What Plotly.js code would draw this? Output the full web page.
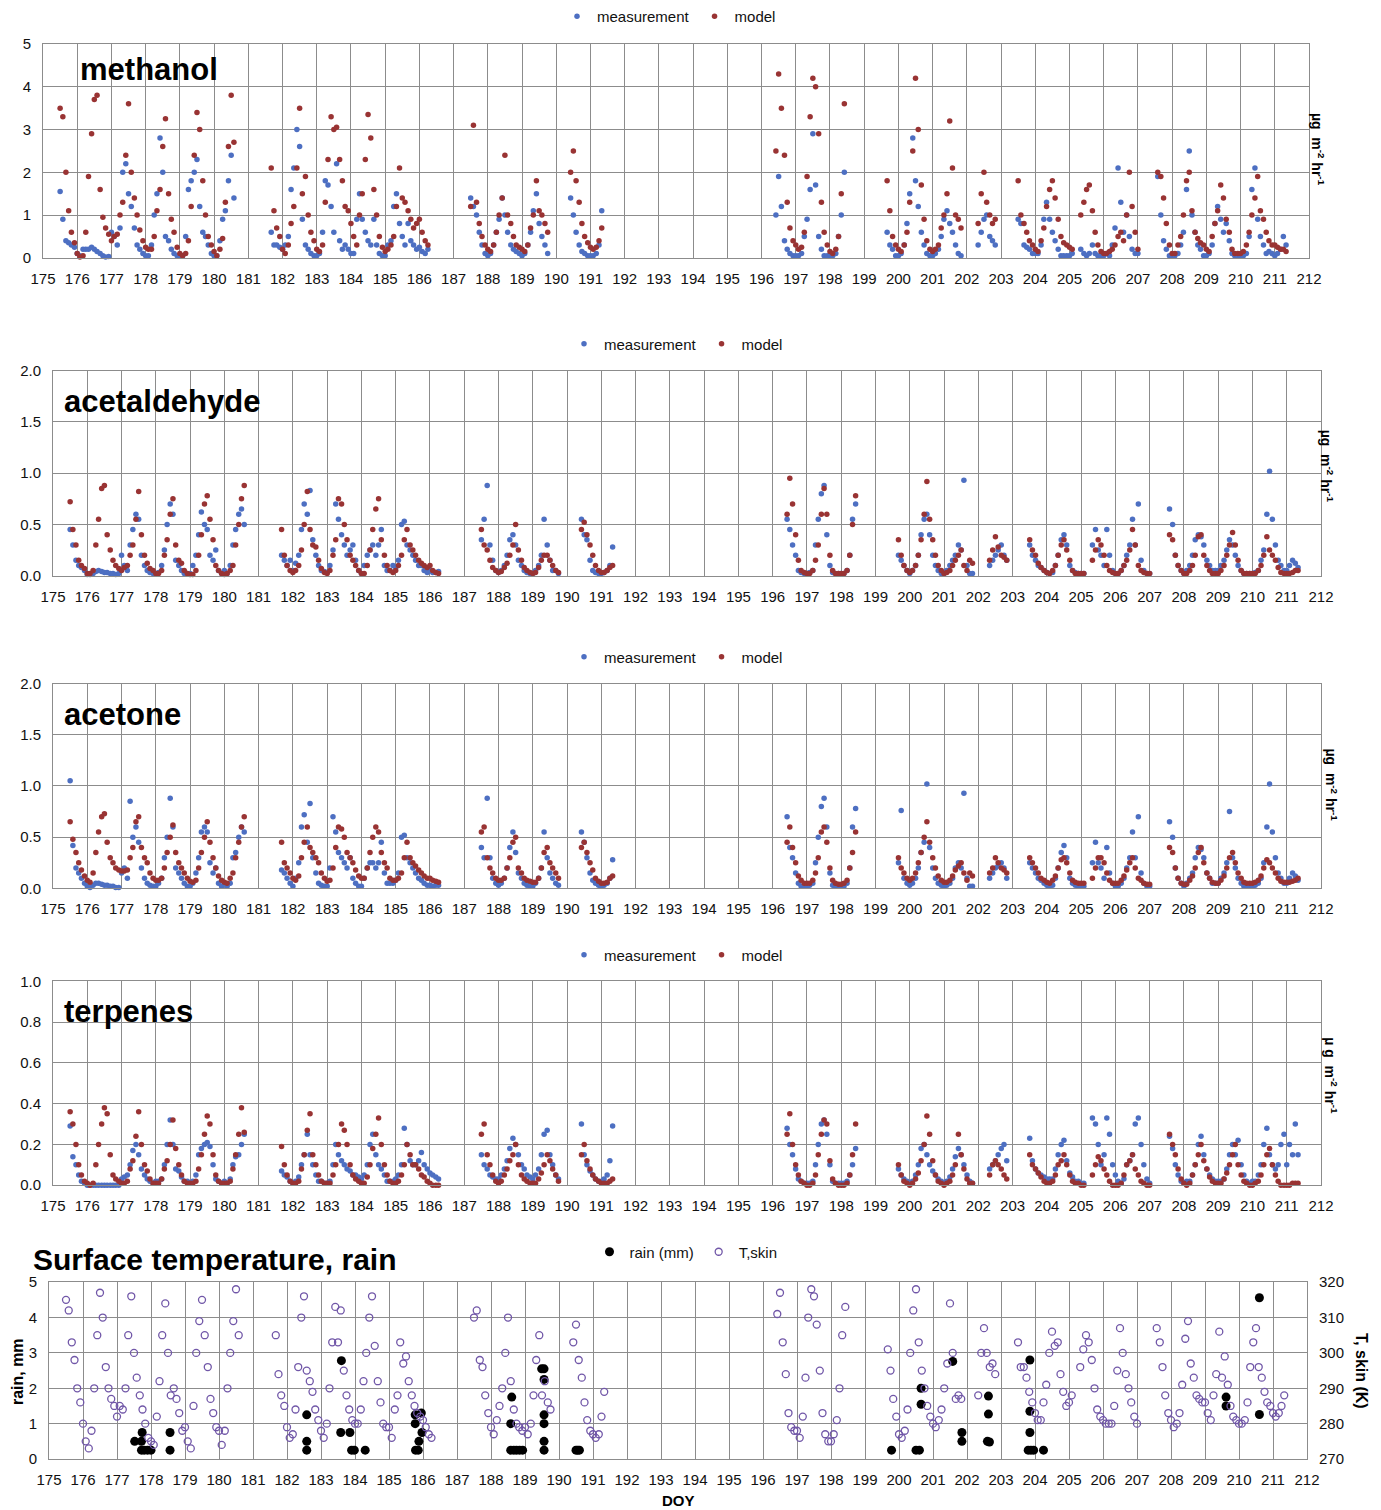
<!DOCTYPE html>
<html>
<head>
<meta charset="utf-8">
<script src="https://cdn.plot.ly/plotly-3.0.1.min.js"></script>
<style>html,body{margin:0;padding:0;background:#fff;}#chart{width:1381px;height:1510px;}</style>
</head>
<body>
<div id="chart"></div>
<script>
// Day of year sample times (2-hourly, segments with data)
const doy = [
175.5,175.58,175.67,175.75,175.83,175.92,
176,176.08,176.17,176.25,176.33,176.42,176.5,176.58,176.67,176.75,176.83,176.92,
177,177.08,177.17,177.25,177.33,177.42,177.5,177.58,177.67,177.75,177.83,177.92,
178,178.08,178.17,178.25,178.33,178.42,178.5,178.58,178.67,178.75,178.83,178.92,
179,179.08,179.17,179.25,179.33,179.42,179.5,179.58,179.67,179.75,179.83,179.92,
180,180.08,180.17,180.25,180.33,180.42,180.5,180.58,
181.67,181.75,181.83,181.92,
182,182.08,182.17,182.25,182.33,182.42,182.5,182.58,182.67,182.75,182.83,182.92,
183,183.08,183.17,183.25,183.33,183.42,183.5,183.58,183.67,183.75,183.83,183.92,
184,184.08,184.17,184.25,184.33,184.42,184.5,184.58,184.67,184.75,184.83,184.92,
185,185.08,185.17,185.25,185.33,185.42,185.5,185.58,185.67,185.75,185.83,185.92,
186,186.08,186.17,186.25,
187.5,187.58,187.67,187.75,187.83,187.92,
188,188.08,188.17,188.25,188.33,188.42,188.5,188.58,188.67,188.75,188.83,188.92,
189,189.08,189.17,189.25,189.33,189.42,189.5,189.58,189.67,189.75,
190.42,190.5,190.58,190.67,190.75,190.83,190.92,
191,191.08,191.17,191.25,191.33,
196.42,196.5,196.58,196.67,196.75,196.83,196.92,
197,197.08,197.17,197.25,197.33,197.42,197.5,197.58,197.67,197.75,197.83,197.92,
198,198.08,198.17,198.25,198.33,198.42,
199.67,199.75,199.83,199.92,
200,200.08,200.17,200.25,200.33,200.42,200.5,200.58,200.67,200.75,200.83,200.92,
201,201.08,201.17,201.25,201.33,201.42,201.5,201.58,201.67,201.75,201.83,
202.33,202.42,202.5,202.58,202.67,202.75,202.83,
203.5,203.58,203.67,203.75,203.83,203.92,
204,204.08,204.17,204.25,204.33,204.42,204.5,204.58,204.67,204.75,204.83,204.92,
205,205.08,
205.33,205.42,205.5,205.58,205.67,205.75,205.83,205.92,
206,206.08,206.17,206.25,206.33,206.42,206.5,206.58,206.67,206.75,206.83,206.92,
207,
207.58,207.67,207.75,207.83,207.92,
208,208.08,208.17,208.25,208.33,208.42,208.5,208.58,208.67,208.75,208.83,208.92,
209,209.08,209.17,209.25,209.33,209.42,209.5,209.58,209.67,209.75,209.83,209.92,
210,210.08,210.17,210.25,210.33,210.42,210.5,210.58,210.67,210.75,210.83,210.92,
211,211.08,211.17,211.25,211.33
];

// methanol (µg m-2 hr-1)
const methanolMeas = [
1.55,0.9,0.4,0.35,0.3,0.25,
0.1,0.05,0.2,0.2,0.2,0.25,0.2,0.15,0.1,0.05,0.02,0.03,
0.6,0.5,0.3,0.7,2.0,2.2,1.5,1.2,0.7,0.3,0.2,0.1,
0.05,0.05,0.3,1.0,1.5,2.8,2.0,0.5,0.4,0.2,0.1,0.05,
0.05,0.05,0.5,1.6,1.8,2.0,2.3,1.2,0.6,0.5,0.3,0.1,
0.05,0.05,0.4,0.9,1.1,1.8,2.4,1.4,
0.6,0.3,0.3,0.25,
0.2,0.3,0.5,1.6,2.1,3.0,2.6,0.9,0.3,0.2,0.1,0.05,
0.05,0.1,0.6,1.8,1.7,1.2,0.6,2.2,0.4,0.2,0.3,0.2,
0.1,0.1,0.9,1.5,0.9,0.6,0.4,0.3,0.9,0.3,0.1,0.05,
0.05,0.3,0.4,1.2,1.5,0.8,0.5,0.3,0.8,0.4,0.3,0.2,
0.25,0.15,0.1,0.2,
1.4,1.2,1.0,0.6,0.3,0.1,
0.05,0.1,0.3,0.6,0.9,1.4,1.0,0.6,0.3,0.2,0.15,0.1,
0.05,0.1,0.3,0.6,1.1,1.5,0.8,0.5,0.3,0.1,
1.4,1.0,0.6,0.3,0.15,0.1,0.05,
0.05,0.05,0.1,0.3,1.1,
1.0,1.9,1.2,0.4,0.2,0.1,0.05,
0.05,0.05,0.1,0.5,0.9,1.6,2.9,1.7,0.5,0.2,0.05,0.05,
0.05,0.05,0.1,0.5,1.0,2.0,
0.6,0.3,0.2,0.05,
0.05,0.1,0.3,0.8,1.5,2.8,1.8,1.2,0.6,0.3,0.1,0.05,
0.05,0.1,0.2,0.5,0.9,1.1,0.8,0.6,0.3,0.1,0.05,
0.3,0.6,0.9,1.0,0.5,0.4,0.3,
0.9,0.8,0.3,0.25,0.2,0.1,
0.1,0.1,0.3,0.9,1.3,0.9,0.6,0.4,0.2,0.05,0.05,0.05,
0.05,0.1,
0.2,0.1,0.05,0.1,0.3,0.1,0.05,0.05,
0.05,0.1,0.05,0.3,0.7,2.1,1.3,0.6,1.0,0.5,0.2,0.1,
0.1,
1.9,1.0,0.4,0.2,0.05,
0.05,0.05,0.1,0.3,0.6,1.6,2.5,1.0,0.6,0.3,0.2,0.05,
0.05,0.1,0.3,0.8,1.2,0.9,0.6,0.8,0.4,0.1,0.05,0.05,
0.05,0.05,0.1,0.5,1.6,2.1,0.9,0.5,0.3,0.1,0.15,0.1,
0.05,0.1,0.2,0.5,0.3
];
const methanolModel = [
3.5,3.3,2.0,1.1,0.6,0.35,
0.1,0.02,0.05,0.6,1.9,2.9,3.7,3.8,1.6,0.95,0.7,0.55,
0.4,0.5,0.55,1.0,1.3,2.4,3.6,2.0,1.4,1.0,0.65,0.4,
0.25,0.2,0.2,0.5,1.1,1.6,2.6,3.25,1.5,0.9,0.6,0.25,
0.1,0.05,0.1,0.4,1.2,2.4,3.4,3.0,1.8,1.0,0.5,0.3,
0.15,0.05,0.2,0.45,1.3,2.6,3.8,2.7,
2.1,1.1,0.7,0.5,
0.2,0.1,0.3,0.8,1.2,2.1,3.5,1.5,1.9,1.0,0.6,0.4,
0.2,0.15,0.3,1.3,2.3,3.3,3.0,3.05,2.3,1.8,1.2,1.1,
0.8,0.5,0.3,1.0,1.5,2.3,3.35,2.8,1.6,1.0,0.5,0.25,
0.15,0.2,0.3,0.5,1.2,2.1,1.4,1.3,1.1,0.9,0.7,0.8,
0.9,0.6,0.4,0.3,
1.2,3.1,1.3,0.8,0.5,0.3,
0.2,0.15,0.3,0.6,1.0,1.4,2.4,1.0,0.8,0.5,0.3,0.25,
0.2,0.15,0.3,0.7,1.0,1.8,1.1,1.0,0.8,0.6,
2.0,2.5,1.8,1.3,0.8,0.5,0.35,
0.25,0.2,0.25,0.4,0.7,
2.5,4.3,3.5,2.4,1.3,0.7,0.4,
0.3,0.2,0.25,0.6,1.9,3.3,4.2,4.0,2.9,1.3,0.6,0.3,
0.15,0.1,0.2,0.5,1.5,3.6,
1.8,1.1,0.5,0.3,
0.2,0.15,0.3,0.6,1.3,2.5,4.2,3.0,1.7,0.9,0.4,0.2,
0.15,0.2,0.3,0.7,1.0,1.5,3.2,2.1,1.0,0.9,0.7,
0.8,1.5,2.0,1.3,1.0,0.8,0.9,
1.8,1.0,0.8,0.6,0.4,0.3,
0.2,0.15,0.4,0.7,1.2,1.6,1.8,1.4,0.9,0.5,0.35,0.3,
0.25,0.2,
1.0,1.3,1.6,1.7,1.1,0.6,0.3,0.15,
0.1,0.1,0.15,0.2,0.3,0.5,0.6,0.4,1.0,2.0,1.2,0.6,
0.2,
2.0,1.9,1.4,0.8,0.3,
0.1,0.1,0.3,0.5,1.0,1.8,2.0,1.1,0.6,0.45,0.35,0.3,
0.2,0.15,0.5,0.8,1.1,1.7,1.4,0.9,0.6,0.2,0.1,0.1,
0.1,0.15,0.3,0.6,1.0,1.4,1.9,1.1,0.9,0.6,0.4,0.3,
0.3,0.25,0.2,0.2,0.15
];

// acetaldehyde
const acetaldehydeMeas = [
0.45,0.3,0.15,0.1,0.08,0.05,
0.01,0.01,0.02,0.04,0.05,0.04,0.03,0.03,0.02,0.02,0.01,0.02,
0.2,0.1,0.05,0.3,0.45,0.6,0.55,0.2,0.1,0.05,0.03,0.02,
0.02,0.03,0.1,0.25,0.5,0.7,0.6,0.15,0.1,0.05,0.02,0.02,
0.02,0.1,0.2,0.4,0.62,0.5,0.45,0.2,0.15,0.25,0.05,0.02,
0.05,0.02,0.1,0.3,0.45,0.6,0.65,0.5,
0.2,0.15,0.1,0.15,
0.05,0.12,0.2,0.45,0.7,0.6,0.83,0.35,0.2,0.1,0.05,0.04,
0.03,0.1,0.25,0.7,0.55,0.4,0.3,0.2,0.25,0.3,0.15,0.05,
0.02,0.1,0.2,0.25,0.3,0.2,0.3,0.45,0.1,0.05,0.05,0.1,
0.08,0.15,0.5,0.53,0.3,0.25,0.2,0.15,0.1,0.1,0.05,0.03,
0.05,0.03,0.03,0.04,
0.35,0.55,0.88,0.3,0.15,0.05,
0.03,0.05,0.1,0.2,0.35,0.4,0.3,0.15,0.1,0.05,0.03,0.02,
0.02,0.05,0.1,0.2,0.55,0.3,0.15,0.05,0.05,0.02,
0.55,0.4,0.35,0.15,0.05,0.03,0.02,
0.02,0.03,0.05,0.1,0.28,
0.55,0.45,0.3,0.2,0.05,0.03,0.02,
0.02,0.03,0.05,0.3,0.55,0.8,0.88,0.4,0.1,0.03,0.02,0.02,
0.02,0.02,0.05,0.2,0.55,0.7,
0.2,0.15,0.1,0.05,
0.02,0.05,0.1,0.2,0.4,0.55,0.6,0.4,0.2,0.1,0.05,0.02,
0.02,0.05,0.1,0.15,0.2,0.3,0.25,0.93,0.1,0.02,0.02,
0.1,0.15,0.2,0.25,0.3,0.2,0.15,
0.3,0.2,0.15,0.1,0.08,0.05,
0.03,0.02,0.03,0.1,0.2,0.35,0.4,0.3,0.1,0.05,0.03,0.02,
0.02,0.02,
0.3,0.45,0.25,0.2,0.1,0.45,0.2,0.05,
0.02,0.02,0.05,0.1,0.2,0.3,0.55,0.3,0.7,0.15,0.05,0.02,
0.02,
0.65,0.5,0.2,0.1,0.05,
0.02,0.05,0.1,0.2,0.35,0.4,0.38,0.3,0.15,0.1,0.05,0.05,
0.05,0.1,0.15,0.25,0.35,0.3,0.2,0.1,0.05,0.02,0.02,0.02,
0.02,0.03,0.05,0.15,0.25,0.6,1.02,0.55,0.3,0.15,0.1,0.05,
0.05,0.1,0.15,0.12,0.08
];
const acetaldehydeModel = [
0.72,0.45,0.3,0.15,0.1,0.07,
0.02,0.02,0.05,0.3,0.55,0.85,0.88,0.4,0.25,0.15,0.1,0.07,
0.05,0.08,0.1,0.2,0.3,0.55,0.82,0.4,0.2,0.12,0.07,0.05,
0.02,0.02,0.05,0.2,0.35,0.6,0.75,0.3,0.15,0.12,0.05,0.02,
0.01,0.01,0.05,0.2,0.4,0.7,0.78,0.55,0.35,0.1,0.05,0.02,
0.01,0.02,0.05,0.1,0.3,0.5,0.75,0.88,
0.45,0.2,0.1,0.05,
0.03,0.05,0.1,0.25,0.5,0.82,0.45,0.3,0.28,0.15,0.07,0.03,
0.02,0.05,0.2,0.35,0.75,0.7,0.5,0.35,0.2,0.15,0.1,0.05,
0.02,0.02,0.1,0.25,0.45,0.65,0.75,0.35,0.2,0.1,0.05,0.03,
0.05,0.1,0.2,0.35,0.45,0.3,0.25,0.2,0.15,0.12,0.1,0.08,
0.1,0.05,0.03,0.02,
0.45,0.3,0.25,0.15,0.08,0.05,
0.03,0.04,0.08,0.12,0.2,0.3,0.5,0.25,0.15,0.08,0.05,0.03,
0.02,0.03,0.08,0.15,0.2,0.2,0.15,0.1,0.05,0.03,
0.45,0.52,0.4,0.3,0.2,0.1,0.05,
0.03,0.03,0.05,0.08,0.1,
0.6,0.95,0.7,0.4,0.15,0.05,0.03,
0.02,0.02,0.05,0.15,0.3,0.6,0.85,0.6,0.2,0.05,0.02,0.02,
0.02,0.02,0.05,0.2,0.5,0.78,
0.35,0.2,0.1,0.05,
0.03,0.05,0.1,0.2,0.35,0.6,0.92,0.55,0.35,0.2,0.1,0.05,
0.02,0.03,0.05,0.1,0.15,0.2,0.25,0.1,0.05,0.15,0.12,
0.15,0.25,0.38,0.28,0.2,0.18,0.15,
0.35,0.25,0.2,0.12,0.08,0.05,
0.03,0.02,0.05,0.1,0.2,0.3,0.35,0.25,0.15,0.05,0.02,0.02,
0.02,0.02,
0.15,0.25,0.35,0.3,0.2,0.1,0.05,0.03,
0.02,0.02,0.05,0.1,0.15,0.25,0.45,0.3,0.1,0.05,0.03,0.02,
0.02,
0.4,0.35,0.2,0.1,0.05,
0.02,0.02,0.05,0.1,0.2,0.38,0.4,0.2,0.1,0.05,0.02,0.02,
0.02,0.05,0.1,0.2,0.3,0.42,0.3,0.15,0.05,0.02,0.02,0.02,
0.02,0.02,0.05,0.1,0.2,0.38,0.25,0.2,0.15,0.08,0.03,0.02,
0.02,0.02,0.03,0.05,0.05
];

// acetone
const acetoneMeas = [
1.05,0.42,0.2,0.15,0.1,0.05,
0.02,0.01,0.03,0.05,0.05,0.04,0.03,0.03,0.02,0.02,0.01,0.01,
0.15,0.2,0.1,0.85,0.5,0.6,0.45,0.2,0.1,0.05,0.03,0.02,
0.02,0.05,0.1,0.3,0.5,0.88,0.6,0.2,0.15,0.1,0.05,0.02,
0.02,0.05,0.15,0.3,0.55,0.6,0.55,0.25,0.15,0.2,0.05,0.02,
0.05,0.02,0.05,0.3,0.35,0.5,0.6,0.55,
0.18,0.15,0.1,0.05,
0.02,0.1,0.25,0.6,0.72,0.45,0.83,0.3,0.15,0.05,0.03,0.02,
0.02,0.2,0.7,0.55,0.35,0.3,0.25,0.2,0.3,0.1,0.05,0.02,
0.02,0.1,0.2,0.25,0.25,0.2,0.25,0.45,0.15,0.05,0.05,0.05,
0.08,0.15,0.5,0.52,0.3,0.25,0.2,0.15,0.1,0.08,0.05,0.03,
0.03,0.02,0.03,0.03,
0.4,0.3,0.88,0.3,0.1,0.05,
0.03,0.05,0.1,0.2,0.4,0.55,0.35,0.15,0.1,0.05,0.03,0.02,
0.02,0.05,0.1,0.2,0.55,0.3,0.15,0.1,0.05,0.03,
0.55,0.45,0.3,0.15,0.08,0.05,0.03,
0.02,0.03,0.05,0.1,0.28,
0.7,0.4,0.3,0.15,0.05,0.02,0.02,
0.02,0.03,0.05,0.25,0.5,0.8,0.88,0.6,0.15,0.03,0.02,0.02,
0.02,0.02,0.05,0.2,0.6,0.78,
0.25,0.76,0.1,0.05,
0.03,0.05,0.1,0.2,0.35,0.45,1.02,0.4,0.2,0.1,0.05,0.03,
0.02,0.03,0.05,0.1,0.2,0.25,0.2,0.93,0.1,0.02,0.02,
0.1,0.15,0.2,0.22,0.25,0.2,0.1,
0.25,0.2,0.15,0.1,0.08,0.05,
0.03,0.02,0.03,0.1,0.2,0.35,0.42,0.3,0.1,0.05,0.03,0.02,
0.02,0.02,
0.25,0.45,0.25,0.2,0.1,0.4,0.15,0.05,
0.02,0.02,0.05,0.1,0.2,0.3,0.55,0.3,0.7,0.15,0.05,0.02,
0.02,
0.65,0.5,0.2,0.1,0.05,
0.02,0.05,0.1,0.15,0.3,0.4,0.38,0.3,0.15,0.1,0.05,0.05,
0.05,0.1,0.15,0.25,0.75,0.3,0.2,0.1,0.05,0.02,0.02,0.02,
0.02,0.03,0.05,0.1,0.25,0.6,1.02,0.55,0.3,0.15,0.1,0.05,
0.05,0.1,0.15,0.12,0.08
];
const acetoneModel = [
0.65,0.48,0.35,0.25,0.18,0.12,
0.08,0.06,0.15,0.35,0.55,0.7,0.73,0.45,0.3,0.25,0.2,0.18,
0.17,0.17,0.18,0.3,0.4,0.65,0.7,0.4,0.3,0.25,0.15,0.1,
0.08,0.08,0.1,0.2,0.35,0.5,0.62,0.35,0.25,0.2,0.15,0.1,
0.07,0.06,0.08,0.2,0.35,0.5,0.65,0.45,0.3,0.2,0.12,0.08,
0.06,0.05,0.1,0.15,0.3,0.45,0.6,0.7,
0.45,0.25,0.2,0.15,
0.1,0.08,0.12,0.3,0.45,0.6,0.4,0.35,0.3,0.25,0.15,0.1,
0.07,0.08,0.2,0.4,0.6,0.58,0.5,0.35,0.3,0.25,0.18,0.12,
0.1,0.1,0.2,0.35,0.5,0.6,0.55,0.35,0.25,0.2,0.1,0.08,
0.08,0.1,0.15,0.3,0.45,0.3,0.25,0.22,0.18,0.15,0.12,0.1,
0.1,0.08,0.07,0.06,
0.55,0.6,0.3,0.2,0.15,0.1,
0.08,0.08,0.1,0.2,0.3,0.45,0.5,0.2,0.15,0.1,0.08,0.07,
0.06,0.06,0.1,0.2,0.35,0.4,0.25,0.2,0.15,0.1,
0.4,0.45,0.35,0.25,0.18,0.1,0.07,
0.05,0.05,0.06,0.1,0.12,
0.45,0.6,0.4,0.25,0.12,0.08,0.05,
0.05,0.05,0.08,0.15,0.3,0.55,0.6,0.45,0.2,0.08,0.05,0.04,
0.04,0.05,0.08,0.2,0.35,0.55,
0.3,0.2,0.15,0.1,
0.08,0.1,0.15,0.25,0.35,0.5,0.65,0.45,0.3,0.2,0.12,0.08,
0.06,0.06,0.08,0.12,0.18,0.22,0.25,0.15,0.08,0.15,0.12,
0.15,0.2,0.3,0.25,0.2,0.18,0.15,
0.3,0.25,0.2,0.15,0.1,0.08,
0.06,0.05,0.08,0.12,0.2,0.28,0.3,0.25,0.15,0.08,0.06,0.05,
0.05,0.05,
0.1,0.2,0.3,0.3,0.25,0.15,0.08,0.05,
0.05,0.05,0.08,0.12,0.18,0.25,0.3,0.2,0.1,0.08,0.05,0.04,
0.04,
0.4,0.35,0.2,0.1,0.05,
0.04,0.04,0.08,0.12,0.2,0.35,0.4,0.25,0.15,0.1,0.06,0.05,
0.05,0.08,0.12,0.2,0.3,0.35,0.25,0.15,0.1,0.06,0.05,0.05,
0.05,0.06,0.08,0.12,0.2,0.28,0.25,0.2,0.15,0.1,0.07,0.06,
0.06,0.06,0.07,0.08,0.1
];

// terpenes
const terpenesMeas = [
0.29,0.14,0.1,0.05,0.02,0.01,
0,0,0,0,0,0,0,0,0,0,0,0,
0.03,0.04,0.05,0.1,0.17,0.2,0.15,0.08,0.05,0.03,0.02,0.01,
0.02,0.02,0.03,0.1,0.2,0.32,0.2,0.08,0.07,0.04,0.02,0.02,
0.01,0.02,0.05,0.15,0.18,0.2,0.21,0.19,0.1,0.03,0.02,0.01,
0.02,0.01,0.03,0.1,0.14,0.15,0.2,0.25,
0.07,0.05,0.04,0.02,
0.01,0.02,0.04,0.1,0.15,0.25,0.15,0.1,0.05,0.02,0.02,0.01,
0.01,0.02,0.1,0.2,0.15,0.12,0.1,0.08,0.07,0.05,0.05,0.04,
0.03,0.05,0.1,0.2,0.25,0.15,0.1,0.08,0.05,0.02,0.02,0.02,
0.03,0.05,0.1,0.28,0.2,0.12,0.1,0.1,0.12,0.16,0.1,0.08,
0.06,0.05,0.04,0.03,
0.15,0.1,0.08,0.05,0.04,0.03,
0.03,0.05,0.08,0.12,0.18,0.23,0.2,0.15,0.1,0.08,0.05,0.04,
0.03,0.05,0.08,0.15,0.25,0.27,0.15,0.1,0.05,0.03,
0.3,0.15,0.1,0.07,0.05,0.03,0.02,
0.02,0.03,0.05,0.12,0.29,
0.28,0.2,0.15,0.08,0.03,0.02,0.01,
0.01,0.01,0.02,0.1,0.2,0.3,0.32,0.25,0.1,0.02,0.01,0.01,
0.01,0.01,0.02,0.05,0.1,0.18,
0.08,0.05,0.03,0.02,
0.01,0.02,0.05,0.1,0.18,0.2,0.15,0.1,0.07,0.05,0.03,0.02,
0.01,0.02,0.04,0.08,0.14,0.18,0.15,0.1,0.05,0.02,0.01,
0.08,0.1,0.12,0.15,0.18,0.2,0.12,
0.23,0.12,0.08,0.06,0.05,0.04,
0.03,0.03,0.03,0.08,0.15,0.2,0.22,0.12,0.06,0.04,0.02,0.02,
0.01,0.01,
0.33,0.3,0.2,0.1,0.15,0.33,0.25,0.1,
0.05,0.02,0.01,0.03,0.1,0.12,0.15,0.3,0.33,0.2,0.1,0.03,
0.01,
0.24,0.18,0.1,0.05,0.02,
0.01,0.02,0.02,0.05,0.1,0.2,0.24,0.15,0.08,0.05,0.03,0.02,
0.02,0.02,0.03,0.08,0.15,0.2,0.15,0.22,0.1,0.05,0.02,0.01,
0.02,0.02,0.05,0.1,0.2,0.28,0.15,0.1,0.08,0.1,0.2,0.25,
0.1,0.2,0.15,0.3,0.15
];
const terpenesModel = [
0.36,0.3,0.2,0.1,0.05,0.02,
0.01,0,0.01,0.1,0.2,0.3,0.38,0.35,0.15,0.05,0.03,0.02,
0.01,0.01,0.02,0.08,0.12,0.24,0.36,0.2,0.1,0.07,0.03,0.01,
0.01,0.01,0.03,0.08,0.12,0.2,0.32,0.18,0.1,0.05,0.02,0.01,
0.01,0.01,0.02,0.08,0.15,0.25,0.34,0.3,0.15,0.05,0.02,0.01,
0.01,0.01,0.02,0.08,0.15,0.25,0.38,0.26,
0.19,0.1,0.05,0.02,
0.01,0.01,0.02,0.08,0.15,0.27,0.35,0.15,0.1,0.05,0.02,0.01,
0.01,0.01,0.05,0.1,0.2,0.3,0.27,0.2,0.1,0.05,0.03,0.02,
0.01,0.01,0.04,0.1,0.18,0.25,0.33,0.2,0.1,0.05,0.02,0.01,
0.01,0.02,0.05,0.1,0.2,0.15,0.1,0.1,0.08,0.05,0.04,0.02,
0.01,0,0,0,
0.25,0.3,0.15,0.1,0.05,0.02,
0.01,0.02,0.05,0.08,0.12,0.15,0.2,0.1,0.05,0.03,0.02,0.01,
0.01,0.01,0.03,0.06,0.1,0.15,0.12,0.08,0.05,0.02,
0.15,0.2,0.12,0.08,0.05,0.03,0.02,
0.01,0.01,0.01,0.02,0.03,
0.25,0.35,0.2,0.1,0.05,0.02,0.01,
0,0,0.01,0.05,0.15,0.25,0.32,0.3,0.12,0.03,0.01,0,
0,0,0.01,0.05,0.15,0.3,
0.1,0.05,0.02,0.01,
0,0.01,0.03,0.06,0.12,0.2,0.34,0.25,0.12,0.05,0.02,0.01,
0,0.01,0.02,0.05,0.1,0.25,0.15,0.08,0.03,0.01,0.01,
0.05,0.1,0.12,0.1,0.08,0.05,0.03,
0.15,0.1,0.08,0.06,0.04,0.02,
0.01,0.01,0.02,0.05,0.1,0.12,0.15,0.1,0.05,0.02,0.01,0.01,
0,0,
0.05,0.1,0.14,0.12,0.08,0.05,0.02,0,
0,0,0.01,0.05,0.1,0.12,0.15,0.08,0.05,0.02,0.01,0,
0,
0.25,0.2,0.15,0.08,0.03,
0.01,0,0.01,0.05,0.1,0.15,0.2,0.12,0.08,0.04,0.02,0.01,
0.01,0.01,0.03,0.06,0.1,0.15,0.2,0.1,0.05,0.02,0.01,0,
0,0.01,0.02,0.05,0.1,0.15,0.18,0.1,0.05,0.02,0,0,
0,0,0.01,0.01,0.01
];

// skin temperature (K)
const tSkin = [
315,312,303,298,290,286,
280,275,273,278,290,305,317,310,296,290,287,285,
282,285,284,290,305,316,300,293,288,284,280,276,
275,274,282,292,305,314,300,288,290,287,283,278,
279,275,273,285,300,309,315,305,296,287,283,279,
278,274,278,290,300,309,318,305,
305,294,288,285,
279,276,277,284,296,310,316,295,292,289,284,281,
278,276,280,290,303,313,303,312,295,288,284,281,
280,280,284,292,300,310,316,302,292,286,280,279,
279,276,284,288,303,297,299,292,288,285,283,282,
281,279,277,276,
310,312,298,296,288,283,
279,277,281,285,290,300,310,292,284,280,279,278,
279,277,280,288,298,305,288,292,286,284,
303,308,298,293,286,281,278,
277,276,277,282,289,
311,317,303,294,283,279,278,
278,276,282,293,310,318,316,308,295,283,277,275,
275,277,281,290,305,313,
301,295,287,282,
277,276,278,284,300,312,318,303,295,290,285,282,
280,279,281,284,290,297,314,300,287,288,287,
288,300,307,300,296,297,294,
303,296,296,293,289,286,
283,281,281,286,291,300,306,302,303,294,289,285,
286,288,
296,301,305,303,298,290,284,282,
281,280,280,280,285,295,307,300,294,290,286,282,
280,
307,303,296,288,283,
281,279,280,283,291,304,309,297,293,288,287,286,
286,283,281,288,294,306,293,299,291,285,282,281,
280,280,281,286,296,303,307,296,293,289,286,285,
283,282,283,285,288
];

// rain events
const rainDoy = [
177.52,177.72,177.72,177.74,177.8,177.9,178.0,178.56,178.56,
182.58,182.58,182.58,
183.6,183.58,183.85,183.9,183.98,184.3,
185.77,185.77,185.78,185.86,185.88,185.95,185.97,
188.58,188.61,188.58,188.67,188.75,188.84,188.93,
189.49,189.56,189.56,189.56,189.56,189.56,189.56,
190.5,190.55,190.6,
199.78,
200.5,200.6,200.65,200.65,
201.58,201.85,201.85,
202.63,202.63,202.6,202.66,
203.85,203.85,203.85,203.8,203.88,203.96,204.25,
209.62,209.62,
210.6,210.6
];
const rainMm = [
0.5,0.5,0.25,0.75,0.25,0.25,0.25,0.75,0.25,
1.25,0.5,0.25,
2.78,0.75,0.75,0.25,0.25,0.25,
1.25,1.0,0.25,0.25,0.5,1.3,0.75,
1.0,1.75,0.25,0.25,0.25,0.25,0.25,
2.55,2.55,2.25,1.25,1.0,0.5,0.25,
0.25,0.25,0.25,
0.25,
0.25,0.25,2.0,1.55,
2.76,0.75,0.5,
1.78,1.27,0.5,0.48,
2.8,1.35,0.75,0.25,0.25,0.25,0.25,
1.75,1.5,
4.56,1.26
];

const dayTicks = [175,176,177,178,179,180,181,182,183,184,185,186,187,188,189,190,191,192,193,194,195,196,197,198,199,200,201,202,203,204,205,206,207,208,209,210,211,212];

// ---------- drawing ----------
const W = 1381, H = 1510;
const FONT = 'Liberation Sans, Arial, Helvetica, sans-serif';
const GRID = '#8c8c8c';
const BLUE = '#4d6fc2', RED = '#993333', PURPLE = '#7157a8';
function xd(a, b) { return [a / W, b / W]; }
function yd(t, b) { return [1 - b / H, 1 - t / H]; }
function px(x) { return x / W; }
function py(y) { return 1 - y / H; }

function xAxis(dom, anchor) {
  return {domain: dom, anchor: anchor, range: [175, 212], tickmode: 'array', tickvals: dayTicks,
    ticktext: dayTicks.map(String), showgrid: true, gridcolor: GRID, gridwidth: 1,
    showline: true, mirror: true, linecolor: GRID, linewidth: 1, zeroline: false,
    ticks: 'outside', ticklen: 7, tickcolor: 'rgba(0,0,0,0)',
    tickfont: {family: FONT, size: 15, color: '#111'}, fixedrange: true};
}
function yAxis(dom, anchor, range, dtick, fmt) {
  return {domain: dom, anchor: anchor, range: range, dtick: dtick, tick0: 0, tickformat: fmt,
    showgrid: true, gridcolor: GRID, gridwidth: 1, showline: true, mirror: true,
    linecolor: GRID, linewidth: 1, zeroline: false, ticks: 'outside', ticklen: 8,
    tickcolor: 'rgba(0,0,0,0)', tickfont: {family: FONT, size: 15, color: '#111'}, fixedrange: true};
}

const traces = [];
function addPanel(meas, model, n) {
  const xa = n === 1 ? 'x' : 'x' + n, ya = n === 1 ? 'y' : 'y' + n, lg = n === 1 ? 'legend' : 'legend' + n;
  traces.push({type: 'scatter', mode: 'markers', x: doy, y: meas, xaxis: xa, yaxis: ya, legend: lg,
    name: 'measurement', cliponaxis: false, marker: {color: BLUE, size: 5.5}, hoverinfo: 'x+y'});
  traces.push({type: 'scatter', mode: 'markers', x: doy, y: model, xaxis: xa, yaxis: ya, legend: lg,
    name: 'model', cliponaxis: false, marker: {color: RED, size: 5.5}, hoverinfo: 'x+y'});
}
addPanel(methanolMeas, methanolModel, 1);
addPanel(acetaldehydeMeas, acetaldehydeModel, 2);
addPanel(acetoneMeas, acetoneModel, 3);
addPanel(terpenesMeas, terpenesModel, 4);
traces.push({type: 'scatter', mode: 'markers', x: rainDoy, y: rainMm, xaxis: 'x5', yaxis: 'y5', legend: 'legend5',
  name: 'rain (mm)', cliponaxis: false, marker: {color: '#000', size: 9}});
traces.push({type: 'scatter', mode: 'markers', x: doy, y: tSkin, xaxis: 'x5', yaxis: 'y6', legend: 'legend5',
  name: 'T,skin', cliponaxis: false, marker: {symbol: 'circle-open', color: PURPLE, size: 7, line: {width: 1.3, color: PURPLE}}});

function legendAt(xc, yc) {
  return {orientation: 'h', x: px(xc), y: py(yc), xanchor: 'center', yanchor: 'middle',
    font: {family: FONT, size: 15, color: '#111'}, bgcolor: 'rgba(0,0,0,0)', itemwidth: 30,
    tracegroupgap: 0, itemclick: false, itemdoubleclick: false};
}

const unit = '<b>µg  m<sup>-2</sup> hr<sup>-1</sup></b>';
function ann(text, x, y, size, opts) {
  return Object.assign({text: text, xref: 'paper', yref: 'paper', x: px(x), y: py(y), showarrow: false,
    xanchor: 'left', yanchor: 'middle', font: {family: FONT, size: size, color: '#000'}}, opts || {});
}

const layout = {
  width: W, height: H, margin: {l: 0, r: 0, t: 0, b: 0}, paper_bgcolor: '#fff', plot_bgcolor: '#fff',
  font: {family: FONT, color: '#111'},
  xaxis: xAxis(xd(43, 1309), 'y'),
  yaxis: yAxis(yd(43, 257), 'x', [0, 5], 1, 'd'),
  xaxis2: xAxis(xd(53, 1321), 'y2'),
  yaxis2: yAxis(yd(370, 575), 'x2', [0, 2], 0.5, '.1f'),
  xaxis3: xAxis(xd(53, 1321), 'y3'),
  yaxis3: yAxis(yd(683, 888), 'x3', [0, 2], 0.5, '.1f'),
  xaxis4: xAxis(xd(53, 1321), 'y4'),
  yaxis4: yAxis(yd(981, 1185), 'x4', [0, 1], 0.2, '.1f'),
  xaxis5: xAxis(xd(49, 1307), 'y5'),
  yaxis5: yAxis(yd(1282, 1459), 'x5', [0, 5], 1, 'd'),
  yaxis6: Object.assign(yAxis(yd(1282, 1459), 'x5', [270, 320], 10, 'd'),
    {overlaying: 'y5', side: 'right', showgrid: false, mirror: false, showline: false}),
  legend: legendAt(669, 16),
  legend2: legendAt(676, 344),
  legend3: legendAt(676, 657),
  legend4: legendAt(676, 955),
  legend5: legendAt(686, 1252),
  annotations: [
    ann('<b>methanol</b>', 78, 69, 31),
    ann('<b>acetaldehyde</b>', 62, 401, 31),
    ann('<b>acetone</b>', 62, 714, 31),
    ann('<b>terpenes</b>', 62, 1011, 31),
    ann('<b>Surface temperature, rain</b>', 31, 1259, 30),
    ann(unit, 1318, 148, 14, {xanchor: 'center', textangle: 90}),
    ann(unit, 1327, 465, 14, {xanchor: 'center', textangle: 90}),
    ann(unit, 1331, 784, 14, {xanchor: 'center', textangle: 90}),
    ann('<b>µ g  m<sup>-2</sup> hr<sup>-1</sup></b>', 1331, 1075, 14, {xanchor: 'center', textangle: 90}),
    ann('<b>rain, mm</b>', 17, 1372, 16, {xanchor: 'center', textangle: -90}),
    ann('<b>T, skin (K)</b>', 1362, 1371, 16, {xanchor: 'center', textangle: 90}),
    ann('<b>DOY</b>', 678, 1500, 15, {xanchor: 'center'})
  ]
};

Plotly.newPlot('chart', traces, layout, {displayModeBar: false, staticPlot: true});
</script>
</body>
</html>
